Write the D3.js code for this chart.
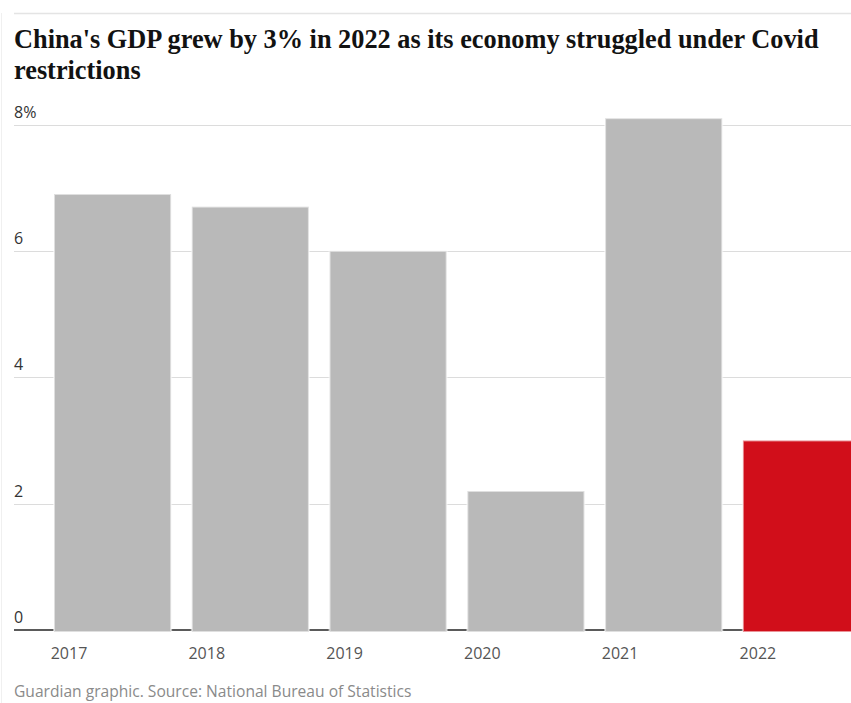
<!DOCTYPE html>
<html>
<head>
<meta charset="utf-8">
<script src="https://cdn.jsdelivr.net/npm/d3@7/dist/d3.min.js"></script>
<style>
  html, body { margin: 0; padding: 0; background: #fff; overflow: hidden; }
  svg { display: block; }
</style>
</head>
<body>
<svg id="chart" width="851" height="703"></svg>
<script>
// China annual GDP growth, %
const years = ["2017", "2018", "2019", "2020", "2021", "2022"];
const growth = [6.9, 6.7, 6.0, 2.2, 8.1, 3.0];
const highlightYear = "2022";
const yTicks = [0, 2, 4, 6, 8];
const yTickLabels = ["0", "2", "4", "6", "8%"];

const titleLines = [
  "China's GDP grew by 3% in 2022 as its economy struggled under Covid",
  "restrictions"
];
const sourceText = "Guardian graphic. Source: National Bureau of Statistics";

const W = 851, H = 703;
const left = 14;
const svg = d3.select("#chart");

// frame rules
svg.append("line")
  .attr("x1", 1.5).attr("x2", 1.5).attr("y1", 13).attr("y2", H)
  .attr("stroke", "#f0f0f0").attr("stroke-width", 1);
svg.append("line")
  .attr("x1", left).attr("x2", W).attr("y1", 13.5).attr("y2", 13.5)
  .attr("stroke", "#e4e4e4").attr("stroke-width", 1.5);

// headline
const title = svg.append("g");
title.selectAll("text").data(titleLines).join("text")
  .attr("x", left)
  .attr("y", (d, i) => 48 + i * 30.5)
  .attr("font-family", "'Liberation Serif', 'DejaVu Serif', serif")
  .attr("font-weight", 700)
  .attr("font-size", 24)
  .attr("fill", "#121212")
  .text(d => d);
// fit the first headline line to the column width
const firstLine = title.select("text").node();
const w0 = firstLine.getComputedTextLength();
const fs = 24 * 805 / w0;
title.selectAll("text").attr("font-size", fs);

// scales
const x = d3.scaleBand().domain(years).range([54, 860]).paddingInner(0.15).paddingOuter(0);
const y = d3.scaleLinear().domain([0, 8]).range([630, 124.5]);

// gridlines
const grid = svg.append("g");
grid.selectAll("line").data(yTicks.filter(t => t !== 0)).join("line")
  .attr("x1", left).attr("x2", W)
  .attr("y1", d => Math.round(y(d)) + 0.5).attr("y2", d => Math.round(y(d)) + 0.5)
  .attr("stroke", "#dcdcdc").attr("stroke-width", 1);

// zero baseline
svg.append("line")
  .attr("x1", left).attr("x2", W)
  .attr("y1", y(0)).attr("y2", y(0))
  .attr("stroke", "#5a5a5a").attr("stroke-width", 2);

// tick labels sit above their gridlines
svg.append("g").selectAll("text").data(yTicks).join("text")
  .attr("x", left)
  .attr("y", d => y(d) - 7)
  .attr("font-family", "'Open Sans', 'Noto Sans', sans-serif")
  .attr("font-size", 16)
  .attr("fill", "#333")
  .text((d, i) => yTickLabels[i]);

// bars, with a soft light edge
svg.append("g").selectAll("rect").data(years).join("rect")
  .attr("x", d => x(d))
  .attr("width", x.bandwidth())
  .attr("y", (d, i) => y(growth[i]))
  .attr("height", (d, i) => y(0) - y(growth[i]) + 2)
  .attr("fill", d => d === highlightYear ? "#d10e1a" : "#b9b9b9")
  .attr("stroke", "#fff")
  .attr("stroke-opacity", 0.55)
  .attr("stroke-width", 2);

// category labels
svg.append("g").selectAll("text").data(years).join("text")
  .attr("x", d => x(d) + 15)
  .attr("y", 659)
  .attr("text-anchor", "middle")
  .attr("font-family", "'Open Sans', 'Noto Sans', sans-serif")
  .attr("font-size", 16)
  .attr("fill", "#555")
  .text(d => d);

// source note
svg.append("text")
  .attr("x", left)
  .attr("y", 697)
  .attr("font-family", "'Open Sans', 'Noto Sans', sans-serif")
  .attr("font-size", 15.6)
  .attr("fill", "#8a8a8a")
  .text(sourceText);
</script>
</body>
</html>
